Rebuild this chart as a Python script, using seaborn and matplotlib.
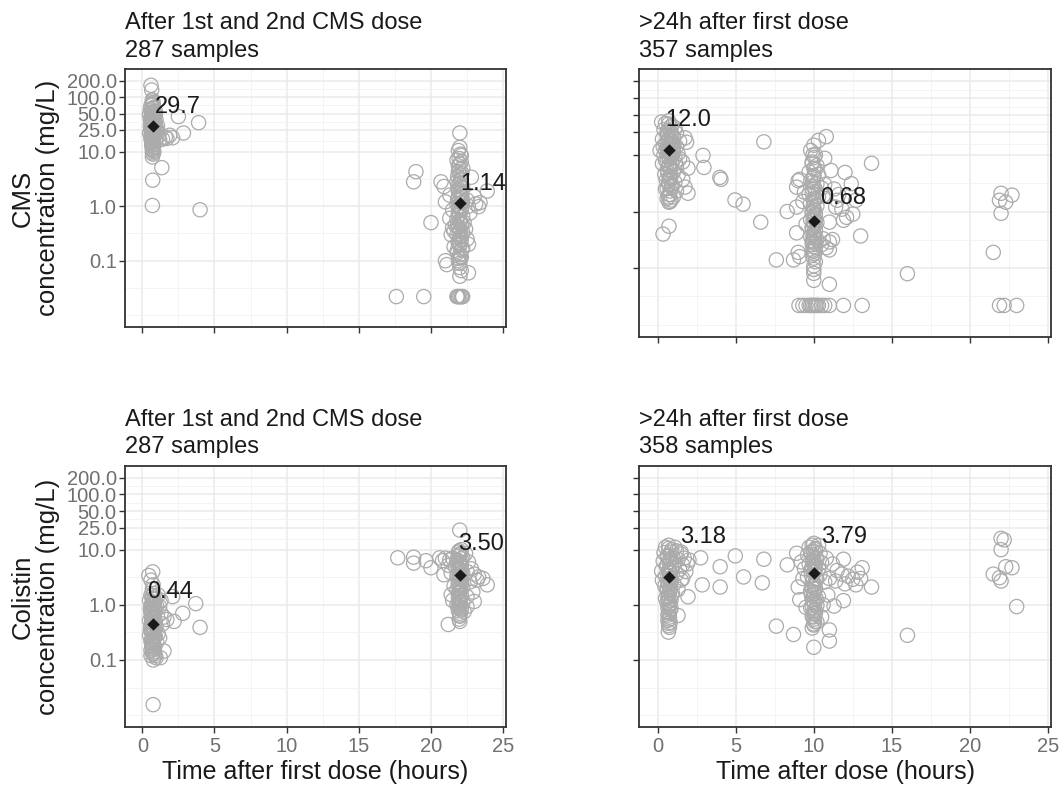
import numpy as np
import pandas as pd
import matplotlib
matplotlib.use("Agg")
import matplotlib.pyplot as plt
from matplotlib.ticker import FixedLocator, NullFormatter
import seaborn as sns

# ---------------- data ----------------
# Top-left: CMS, after 1st and 2nd dose
tl_time = [0.6, 0.65, 0.7, 0.75, 0.6, 0.8, 0.55, 0.9, 0.7, 0.5, 0.85, 0.65, 0.75, 0.95, 0.6, 0.8, 0.7, 0.55, 0.9, 0.75,
           0.65, 1.0, 0.6, 0.85, 0.7, 0.5, 0.95, 0.8, 0.65, 1.1, 0.75, 0.6, 0.9, 0.7, 0.8, 0.65, 0.75, 0.7, 0.8, 0.7,
           0.75, 0.7, 0.75, 0.7, 0.8, 0.75, 0.7, 0.8, 0.75, 0.6, 0.7, 0.85, 0.6, 0.55, 0.9, 1.05, 1.1, 0.7, 0.75, 0.65,
           1.2, 1.4, 1.35, 0.72, 0.7, 2.5, 3.9, 2.85, 2.1, 1.7, 1.6, 1.9, 4.0,
           22.0, 22.0, 21.9, 22.1, 21.8, 22.0, 22.2, 21.9, 22.0, 22.1, 21.8, 22.0, 22.2, 21.9, 22.0, 22.1, 21.9, 22.0,
           22.2, 21.8, 22.0, 22.1, 21.9, 22.0, 22.2, 21.8, 22.0, 22.1, 21.9, 22.0, 22.2, 21.8, 22.0, 22.1, 21.9, 22.0,
           22.2, 21.8, 22.0, 22.1, 21.9, 22.0, 22.0, 22.1, 22.0, 22.6, 21.6, 21.5, 21.4, 22.5, 22.4, 22.6, 21.6, 22.3,
           21.7,
           18.96, 18.8, 20.0, 23.9, 22.8, 20.7, 20.9, 21.0, 21.3, 21.0, 21.1, 22.6, 23.3, 23.4, 23.0, 23.1, 22.5, 22.7,
           21.3, 21.5,
           17.6, 19.5, 21.8, 21.9, 22.0, 22.1, 22.2, 21.85, 22.15,
           0.7, 0.72, 0.78, 0.68, 0.74, 0.8, 0.66, 0.76, 0.7, 0.82, 0.64, 0.72, 0.78, 0.7, 0.74, 0.68, 0.8, 0.72,
           0.76, 0.7, 0.66, 0.74, 0.78, 0.7, 0.72,
           22.05, 21.95, 22.1, 21.9, 22.0, 22.15, 21.85, 22.05, 21.95, 22.1, 21.9, 22.0, 22.15, 21.85, 22.05,
           21.95, 22.1, 21.9, 22.0, 22.15, 21.85, 22.05, 21.95, 22.1, 21.9, 22.0, 22.15, 21.85, 22.05, 21.95]
tl_conc = [165, 135, 90, 80, 70, 65, 60, 55, 50, 48, 45, 42, 40, 38, 36, 34, 32, 30, 29, 28,
           27, 26, 25, 24, 23, 22, 21, 20, 19, 19, 18, 17, 16, 15, 14, 13, 12, 11, 10, 9.5,
           9, 8, 55, 45, 38, 33, 28, 26, 22, 20, 18.5, 30, 35, 40, 48, 30, 23, 75, 62, 52,
           16.5, 17, 5.1, 3.0, 1.03, 44, 34, 22, 18, 17.5, 18.5, 20, 0.86,
           22, 12, 10.5, 8.5, 7, 6, 5, 4.3, 3.8, 3.2, 2.8, 2.5, 2.2, 2.0, 1.8, 1.6, 1.45, 1.3,
           1.2, 1.1, 1.0, 0.9, 0.8, 0.72, 0.65, 0.58, 0.52, 0.46, 0.41, 0.37, 0.33, 0.3, 0.27, 0.24, 0.21, 0.19,
           0.17, 0.15, 0.13, 0.115, 0.1, 0.09, 0.075, 0.066, 0.052, 0.06, 0.35, 0.4, 0.3, 0.25, 0.38, 0.2, 0.18, 0.5,
           0.45,
           4.3, 2.8, 0.5, 1.9, 3.4, 2.8, 2.3, 1.2, 1.6, 0.1, 0.085, 1.0, 0.98, 1.16, 1.5, 1.1, 1.3, 0.75,
           0.6, 0.85,
           0.022, 0.022, 0.022, 0.022, 0.022, 0.022, 0.022, 0.022, 0.022,
           85, 72, 64, 58, 52, 47, 43, 39, 36, 33, 31, 29, 27, 25, 23, 21.5, 20, 18,
           16.5, 15.5, 14.5, 13.5, 12.5, 11.5, 10.5,
           9, 7.5, 6.5, 5.5, 4.7, 4, 3.5, 3, 2.6, 2.3, 1.9, 1.7, 1.5, 1.35, 1.15,
           0.95, 0.85, 0.68, 0.55, 0.48, 0.43, 0.35, 0.31, 0.28, 0.22, 0.2, 0.16, 0.14, 0.12, 0.11]

# Top-right: CMS, >24h after first dose
tr_time = [0.25, 0.7, 0.5, 0.9, 1.1, 0.4, 0.8, 1.2, 0.6, 1.0, 1.75, 1.85, 0.3, 0.7, 1.4, 0.5, 0.9, 1.2, 0.15, 0.6,
           1.0, 0.8, 1.3, 0.4, 0.7, 1.1, 1.4, 0.5, 0.9, 1.6, 0.3, 0.75, 1.2, 1.94, 0.6, 1.0, 0.45, 1.3, 0.8, 1.6,
           0.55, 1.1, 0.7, 0.9, 1.75, 0.5, 1.2, 1.94, 0.75, 1.0, 0.6, 0.72, 0.8, 0.34, 0.72, 0.6, 0.9, 0.5, 0.8, 1.05,
           0.35, 0.65, 0.95, 0.85, 1.15,
           2.9, 2.96, 3.98, 4.05, 4.95, 5.47, 6.6, 6.8,
           10.0, 10.3, 10.8, 9.8, 10.1, 10.7, 9.9, 10.2, 10.0, 9.7, 10.3, 10.0, 9.8, 10.2, 10.0, 9.9, 10.1, 9.7, 10.3,
           10.0, 9.8, 10.2, 10.0, 9.9, 10.1, 10.0, 9.8, 10.2, 10.0, 9.9, 10.1, 10.0, 9.8, 10.2, 10.0, 9.9, 10.1, 10.0,
           9.9, 10.0, 10.1, 10.0, 10.0, 10.0, 10.0, 11.0,
           11.1, 12.0, 12.4, 12.7, 12.1, 11.9, 11.5, 13.0, 13.7, 9.1, 8.9, 9.0, 8.3, 8.9, 8.9, 9.0, 8.7, 7.6, 9.1,
           11.0, 11.0, 10.8, 11.2, 16.0, 10.7, 11.3, 11.6, 10.5, 11.4, 10.6, 10.5, 9.5, 9.3, 9.4, 10.6, 11.8, 12.5,
           11.0,
           9.05, 9.3, 9.5, 9.7, 9.8, 9.9, 10.0, 10.1, 10.2, 10.3, 10.5, 10.7, 11.0, 11.9, 13.1, 21.9, 22.2, 23.0,
           22.0, 22.7, 21.9, 22.3, 22.0, 21.5,
           0.7, 0.85, 0.65, 0.9, 0.75, 0.6, 0.8, 0.7, 0.95, 0.65, 0.85, 0.75, 0.6, 0.9, 0.7, 0.8, 0.65, 0.85, 0.75,
           0.7, 0.9, 0.6, 0.8, 0.75, 0.7, 0.85,
           9.95, 10.05, 9.9, 10.1, 10.0, 9.95, 10.05, 9.9, 10.1, 10.0, 9.95, 10.05, 9.9, 10.1, 10.0, 9.95, 10.05,
           9.9, 10.1, 10.0, 9.95, 10.05, 9.9, 10.1, 10.0, 9.95, 10.05]
tr_conc = [38, 40, 36, 33, 30, 28, 26, 24, 22, 21, 20, 16.7, 19, 18, 17.5, 16, 15, 14, 12, 13,
           12.5, 11, 10.5, 10, 9.2, 9, 8.5, 8, 7.5, 7.5, 7, 6.5, 6.2, 5.8, 5.5, 5, 4.5, 4.4, 4, 3.7,
           3.6, 3.3, 3, 2.7, 2.7, 2.5, 2.3, 2.1, 2, 1.8, 1.7, 1.46, 1.5, 0.40, 0.55, 25, 20, 12, 14.5, 16,
           14, 11, 9.8, 6, 7,
           9.8, 6.0, 4.0, 3.7, 1.6, 1.35, 0.65, 17,
           14.8, 18, 21, 12, 10, 8.7, 7.5, 6.5, 5.8, 5, 4.5, 4, 3.5, 3.1, 2.8, 2.5, 2.2, 2, 1.8,
           1.6, 1.4, 1.25, 1.1, 1, 0.9, 0.8, 0.72, 0.64, 0.57, 0.5, 0.45, 0.4, 0.36, 0.32, 0.29, 0.26, 0.23, 0.2,
           0.17, 0.15, 0.13, 0.11, 0.095, 0.081, 0.061, 0.052,
           5.3, 4.9, 3.1, 1.58, 0.79, 0.7, 1.58, 0.37, 7.1, 3.7, 2.7, 3.5, 1.0, 1.2, 0.42, 0.19, 0.14, 0.14, 0.16,
           0.29, 0.21, 0.23, 0.32, 0.08, 3.0, 2.5, 2.0, 2.6, 1.2, 0.33, 0.26, 0.6, 1.5, 2.2, 1.9, 1.1, 0.9,
           0.65,
           0.022, 0.022, 0.022, 0.022, 0.022, 0.022, 0.022, 0.022, 0.022, 0.022, 0.022, 0.022, 0.022, 0.022, 0.022,
           0.022, 0.022, 0.022,
           2.1, 1.95, 1.58, 1.46, 0.93, 0.19,
           35, 31, 27, 23, 19.5, 17, 15.5, 13.5, 12, 11.5, 10, 9, 8, 7, 6.2, 5.5, 4.8, 4.2, 3.8,
           3.4, 3.0, 2.6, 2.3, 2.0, 1.8, 1.6,
           10, 9, 7, 5.5, 4.3, 3.3, 2.6, 2.1, 1.7, 1.45, 1.2, 1.05, 0.95, 0.85, 0.76, 0.68, 0.6,
           0.53, 0.47, 0.42, 0.38, 0.34, 0.3, 0.27, 0.24, 0.21, 0.18]

# Bottom-left: Colistin, after 1st and 2nd dose
bl_time = [0.72, 0.45, 0.6, 0.75, 0.7, 0.8, 0.6, 0.9, 0.7, 0.5, 0.85, 0.65, 1.0, 0.75, 0.55, 0.9, 0.7, 0.6, 0.8, 1.05,
           0.65, 0.75, 0.5, 0.9, 0.7, 0.8, 0.6, 0.95, 0.7, 0.55, 0.85, 0.65, 0.75, 0.5, 0.9, 0.7, 0.8, 0.6, 1.0, 0.75,
           0.65, 0.85, 0.7, 0.6, 0.8, 0.7, 0.9, 0.76, 0.95, 1.25, 1.5, 0.75,
           2.1, 3.7, 2.8, 2.2, 4.0, 1.7, 1.5, 1.2, 1.3, 1.4, 1.1, 1.2, 1.3, 1.1,
           22.0, 22.1, 21.9, 22.0, 22.2, 21.8, 22.0, 22.1, 21.9, 22.0, 22.2, 21.8, 22.0, 22.1, 21.9, 22.0, 22.2, 21.8,
           22.0, 22.1, 21.9, 22.0, 22.2, 21.8, 22.0, 22.1, 21.9, 22.0, 22.0, 22.0, 22.4, 22.6, 21.5, 21.3, 21.7, 22.5,
           22.8, 21.4, 22.7, 21.6, 22.5, 21.5, 22.3,
           17.7, 18.8, 18.8, 19.65, 20.0, 20.6, 20.9, 21.2, 21.4, 23.9, 23.0, 22.9, 23.3, 23.6, 22.5, 21.0, 20.8,
           21.2, 23.0, 23.2,
           0.7, 0.8, 0.65, 0.75, 0.85, 0.6, 0.7, 0.8, 0.75, 0.65, 0.9, 0.7, 0.8, 0.6, 0.75, 0.85, 0.7, 0.65, 0.8,
           0.75, 0.7, 0.85, 0.6,
           21.95, 22.05, 21.9, 22.1, 22.0, 21.95, 22.05, 21.9, 22.1, 22.0, 21.95, 22.05, 21.9, 22.1, 22.0, 21.95,
           22.05, 21.9, 22.1, 22.0, 21.95, 22.05, 21.9, 22.1, 22.0, 21.95]
bl_conc = [3.96, 3.4, 2.8, 2.3, 1.9, 1.6, 1.5, 1.4, 1.3, 1.2, 1.1, 1.0, 0.95, 0.9, 0.85, 0.8, 0.75, 0.7, 0.66, 0.62,
           0.58, 0.55, 0.52, 0.5, 0.47, 0.44, 0.42, 0.4, 0.38, 0.36, 0.34, 0.32, 0.3, 0.28, 0.27, 0.25, 0.24, 0.22,
           0.21, 0.2, 0.18, 0.17, 0.16, 0.15, 0.14, 0.13, 0.12, 0.1, 0.11, 0.11, 0.145, 0.0155,
           1.41, 1.05, 0.7, 0.5, 0.39, 0.54, 0.6, 0.93, 0.7, 0.45, 0.3, 0.25, 1.2, 1.5,
           22.6, 10, 9, 8, 7.2, 6.5, 5.8, 5.2, 4.7, 4.2, 3.8, 3.4, 3.1, 2.8, 2.5, 2.3, 2.1, 1.9,
           1.7, 1.5, 1.35, 1.2, 1.1, 1.0, 0.92, 0.85, 0.78, 0.7, 0.62, 0.5, 8.5, 6, 7, 6.5, 5, 4,
           4.5, 3.8, 2.6, 2.2, 1.4, 1.2, 0.75,
           7.1, 7.3, 5.7, 6.3, 4.7, 7.1, 3.5, 0.44, 1.53, 2.3, 1.15, 1.7, 3.2, 3.0, 0.93, 7.0, 6.3,
           5.2, 3.6, 2.8,
           1.45, 1.25, 1.05, 0.98, 0.88, 0.78, 0.7, 0.63, 0.56, 0.5, 0.45, 0.4, 0.36, 0.33, 0.3, 0.27, 0.24,
           0.21, 0.19, 0.17, 0.15, 0.13, 0.12,
           9.5, 8.5, 7.6, 6.8, 6.1, 5.5, 4.9, 4.4, 4.0, 3.6, 3.3, 2.95, 2.65, 2.4, 2.2, 2.0, 1.8, 1.6, 1.45,
           1.3, 1.15, 1.05, 0.95, 0.8, 0.65, 0.55]

# Bottom-right: Colistin, >24h after first dose
br_time = [0.7, 0.5, 0.9, 1.2, 0.4, 0.8, 1.5, 0.6, 1.0, 1.3, 0.35, 0.75, 1.1, 1.6, 0.55, 0.9, 1.4, 0.25, 0.7, 1.2,
           0.5, 0.85, 1.6, 0.3, 0.65, 1.05, 0.45, 0.8, 1.3, 0.6, 0.95, 0.7, 0.5, 0.85, 1.94, 0.6, 0.75, 0.65, 0.8, 0.7,
           1.3, 0.75, 0.65, 0.7, 0.75, 0.68, 1.5, 1.8, 1.9, 2.0, 1.7, 1.5, 1.1,
           2.75, 2.85, 4.0, 4.0, 4.97, 5.5, 6.7, 6.8,
           10.0, 10.3, 9.7, 10.1, 9.8, 10.4, 9.6, 10.0, 10.2, 9.9, 10.5, 9.7, 10.1, 10.3, 9.8, 10.0, 10.4, 9.6, 10.2,
           9.9, 10.0, 10.1, 9.8, 10.0, 10.3, 9.9, 10.0, 10.2, 9.8, 10.0, 10.1, 9.9, 10.0, 10.2, 10.0, 9.9, 10.0, 11.0,
           11.0, 11.9, 8.3, 8.9, 13.1, 13.7, 12.7, 11.9, 9.1, 9.0, 10.8, 11.2, 11.5, 11.8, 12.2, 12.5, 11.0, 10.7,
           11.4, 12.0, 10.9, 10.6, 9.4, 9.2, 9.5, 10.5, 11.3, 9.3, 12.8, 13.0,
           7.6, 8.7, 16.0,
           22.0, 22.2, 22.0, 22.3, 22.7, 21.5, 21.9, 22.0, 23.0,
           0.7, 0.85, 0.65, 0.8, 0.75, 0.6, 0.9, 0.7, 0.8, 0.65, 0.75, 0.85, 0.7, 0.6, 0.8, 0.75, 0.9, 0.65, 0.7,
           0.8, 0.75, 0.85, 0.7, 0.65, 0.75, 0.8, 0.7,
           9.9, 10.1, 10.0, 9.85, 10.15, 9.95, 10.05, 9.9, 10.1, 10.0, 9.85, 10.15, 9.95, 10.05, 9.9, 10.1, 10.0,
           9.85, 10.15, 9.95, 10.05, 9.9, 10.1, 10.0, 9.95, 10.05, 10.0]
br_conc = [12, 11, 10, 9.5, 8.8, 8, 8.3, 7.5, 7, 6.6, 6.2, 6, 5.6, 5.3, 5, 4.7, 4.4, 4.1, 3.9, 3.6,
           3.3, 3.1, 3.0, 2.8, 2.6, 2.4, 2.2, 2.0, 1.9, 1.8, 1.6, 1.45, 1.3, 1.2, 1.4, 1.1, 1.0, 0.9, 0.8, 0.72,
           0.64, 0.6, 0.52, 0.46, 0.39, 0.32, 2.8, 4.0, 5.5, 6.5, 7.0, 9, 11,
           7.1, 2.3, 4.9, 2.1, 7.7, 3.2, 2.5, 6.7,
           13, 12, 11, 10, 9, 8.6, 8, 7.4, 6.8, 6.2, 5.8, 5.5, 5.0, 4.6, 4.2, 3.9, 3.5, 3.2, 2.9,
           2.6, 2.3, 2.0, 1.8, 1.6, 1.4, 1.25, 1.1, 0.98, 0.88, 0.78, 0.7, 0.62, 0.55, 0.49, 0.43, 0.38, 0.17, 0.22,
           0.35, 1.19, 5.3, 8.6, 4.7, 2.1, 2.3, 6.7, 1.24, 2.1, 7, 5.5, 4.2, 3.6, 3.3, 2.9, 3.0, 2.6,
           2.7, 2.4, 1.5, 1.0, 4.5, 6.0, 0.9, 0.6, 0.95, 3.0, 3.9, 3.0,
           0.41, 0.29, 0.28,
           16, 15, 10, 4.9, 4.7, 3.6, 3.1, 2.7, 0.93,
           10.5, 9, 7.8, 6.8, 6, 5.3, 4.7, 4.2, 3.7, 3.3, 2.9, 2.6, 2.3, 2.05, 1.85, 1.65, 1.5, 1.35, 1.2,
           1.05, 0.95, 0.85, 0.75, 0.65, 0.55, 0.48, 0.42,
           12, 10.5, 9.3, 8.2, 7.2, 6.4, 5.6, 5.0, 4.4, 3.9, 3.4, 3.0, 2.7, 2.4, 2.1, 1.9, 1.7,
           1.5, 1.3, 1.15, 1.0, 0.9, 0.8, 0.7, 0.6, 0.5, 0.45]

# medians (diamonds) and their labels
tl_med_time, tl_med = [0.75, 22.0], [29.7, 1.14]
tr_med_time, tr_med = [0.75, 10.0], [12.0, 0.68]
bl_med_time, bl_med = [0.75, 22.0], [0.44, 3.50]
br_med_time, br_med = [0.75, 10.0], [3.18, 3.79]

tl_lab_time, tl_lab_conc, tl_labels = [0.9, 22.0], [52, 2.0], ["29.7", "1.14"]
tr_lab_time, tr_lab_conc, tr_labels = [0.47, 10.43], [33, 1.35], ["12.0", "0.68"]
bl_lab_time, bl_lab_conc, bl_labels = [0.35, 21.9], [1.35, 9.85], ["0.44", "3.50"]
br_lab_time, br_lab_conc, br_labels = [1.43, 10.45], [13.1, 13.1], ["3.18", "3.79"]

titles = ["After 1st and 2nd CMS dose\n287 samples", ">24h after first dose\n357 samples",
          "After 1st and 2nd CMS dose\n287 samples", ">24h after first dose\n358 samples"]
ylabels = ["CMS\nconcentration (mg/L)", "Colistin\nconcentration (mg/L)"]
xlabels = ["Time after first dose (hours)", "Time after dose (hours)"]

y_breaks = [0.1, 1, 10, 25, 50, 100, 200]
y_break_labels = ["0.1", "1.0", "10.0", "25.0", "50.0", "100.0", "200.0"]
x_breaks = [0, 5, 10, 15, 20, 25]

# ---------------- style ----------------
sns.set_theme(style="white")
plt.rcParams["font.family"] = ["Liberation Sans", "DejaVu Sans"]

W, H = 1062, 785
fig = plt.figure(figsize=(W / 100, H / 100), dpi=100)

def rect(l, r, t, b):
    return [l / W, 1 - b / H, (r - l) / W, (b - t) / H]

axes = [fig.add_axes(rect(125, 506, 69, 327)),
        fig.add_axes(rect(639, 1051, 69, 337)),
        fig.add_axes(rect(125, 506, 466, 727)),
        fig.add_axes(rect(639, 1051, 466, 727))]

lo, hi = 10 ** -2.215, 10 ** 2.516
log_major = np.log10([0.01] + y_breaks)
minor_y = [10 ** ((a + b) / 2) for a, b in zip(log_major[:-1], log_major[1:])] + [0.01]

panels = [
    (tl_time, tl_conc, tl_med_time, tl_med, tl_lab_time, tl_lab_conc, tl_labels),
    (tr_time, tr_conc, tr_med_time, tr_med, tr_lab_time, tr_lab_conc, tr_labels),
    (bl_time, bl_conc, bl_med_time, bl_med, bl_lab_time, bl_lab_conc, bl_labels),
    (br_time, br_conc, br_med_time, br_med, br_lab_time, br_lab_conc, br_labels),
]

for i, (ax, p) in enumerate(zip(axes, panels)):
    t, c, mt, mc, lt, lc, labs = p
    ax.set_yscale("log")
    df = pd.DataFrame({"time": t, "conc": c})
    sns.scatterplot(data=df, x="time", y="conc", ax=ax, marker="o", s=105,
                    linewidth=0.9, zorder=3, legend=False)
    ax.collections[-1].set_facecolor("none")
    ax.collections[-1].set_edgecolor("#ABABAB")
    md = pd.DataFrame({"time": mt, "conc": mc})
    sns.scatterplot(data=md, x="time", y="conc", ax=ax, marker="D", s=36,
                    color="#1A1A1A", edgecolor="#1A1A1A", linewidth=0.3, zorder=5, legend=False)
    for x, y, s in zip(lt, lc, labs):
        ax.text(x, y, s, ha="left", va="baseline", fontsize=17, color="#1A1A1A", zorder=4)

    ax.set_xlim(-1.2, 25.2)
    ax.set_ylim(lo, hi)
    ax.set_yticks(y_breaks)
    ax.yaxis.set_minor_locator(FixedLocator(minor_y))
    ax.yaxis.set_minor_formatter(NullFormatter())
    ax.set_xticks(x_breaks)
    ax.xaxis.set_minor_locator(FixedLocator([2.5, 7.5, 12.5, 17.5, 22.5]))
    ax.grid(which="major", color="#EBEBEB", linewidth=1.1, zorder=0)
    ax.grid(which="minor", color="#F2F2F2", linewidth=0.6, zorder=0)
    ax.set_axisbelow(True)
    ax.tick_params(which="major", length=4, width=1, color="#333333", direction="out",
                   labelsize=14.5, labelcolor="#707070", pad=3,
                   bottom=True, left=True)
    ax.tick_params(axis="y", which="major", pad=2)
    ax.tick_params(which="minor", length=0)
    for sp in ax.spines.values():
        sp.set_color("#333333")
        sp.set_linewidth(1.3)

    if i in (0, 2):
        ax.set_yticklabels(y_break_labels)
        ax.set_ylabel(ylabels[i // 2], fontsize=18.5, color="#1A1A1A", linespacing=1.05, labelpad=5)
    else:
        ax.set_yticklabels([])
        ax.set_ylabel("")
    if i in (2, 3):
        ax.set_xticklabels([str(v) for v in x_breaks])
        ax.set_xlabel(xlabels[i - 2], fontsize=18, color="#1A1A1A", labelpad=3)
    else:
        ax.set_xticklabels([])
        ax.set_xlabel("")
    ax.set_title(titles[i], loc="left", fontsize=17, color="#1A1A1A", pad=9, linespacing=1.3)

fig.savefig("out.png", dpi=100)
